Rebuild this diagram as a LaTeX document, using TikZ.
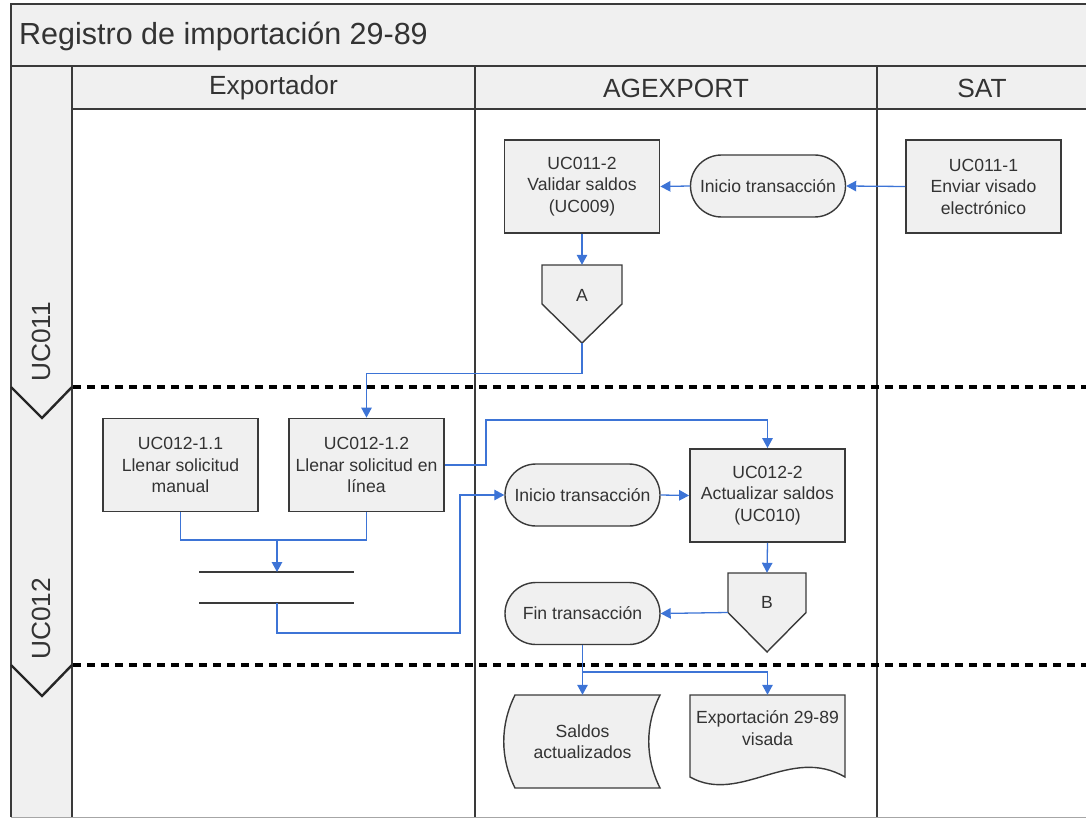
\documentclass[tikz,border=0pt]{standalone}
\usepackage{fontspec}
\setmainfont{Liberation Sans}
\usetikzlibrary{arrows.meta}
\definecolor{fillgray}{HTML}{F0F0F0}
\definecolor{linegray}{HTML}{3A3A3A}
\definecolor{textgray}{HTML}{333333}
\definecolor{flowblue}{HTML}{3D74D6}
\newcommand\myNodeFont{\fontsize{17.6}{21.5}\selectfont}
\newcommand\myHeadFont{\fontsize{26.3}{30}\selectfont}
\begin{document}
\begin{tikzpicture}[x=1pt,y=-1pt,
  frame/.style={draw=linegray,line width=2.6pt},
  proc/.style={draw=linegray,line width=1.8pt,fill=fillgray,minimum width=155pt,minimum height=93pt,inner sep=2pt,align=center,font=\myNodeFont,text=textgray},
  pill/.style={draw=linegray,line width=1.4pt,fill=fillgray,rounded corners=31pt,minimum width=155pt,minimum height=62pt,inner sep=2pt,font=\myNodeFont,text=textgray},
  shapeline/.style={draw=linegray,line width=1.4pt,fill=fillgray},
  txt/.style={align=center,font=\myNodeFont,inner sep=0pt,text=textgray},
  flowline/.style={draw=flowblue,line width=1.3pt},
  flow/.style={flowline,-{Triangle[length=10pt,width=10.5pt]}},
  lanesep/.style={draw=black,line width=3.2pt,dash pattern=on 8pt off 6pt},
  barline/.style={draw=linegray,line width=2.2pt},
  chev/.style={draw=black!85,line width=2.4pt},
  head/.style={font=\myHeadFont,inner sep=0pt,text=textgray},
]
\useasboundingbox (0,0) rectangle (1086,818);
% backgrounds
\fill[fillgray] (11,4) rectangle (1086,109);
\fill[fillgray] (11,66) rectangle (72,817);
% titles
\node[anchor=west,font=\fontsize{30.5}{34}\selectfont,inner sep=0pt,text=textgray] (title) at (19,36) {Registro de importación 29-89};
\node[head] (hexp) at (273.5,88) {Exportador};
\node[head] (hage) at (676,88) {AGEXPORT};
\node[head] (hsat) at (982,88) {SAT};
\node[head,rotate=90] (luc11) at (41,342) {UC011};
\node[head,rotate=90] (luc12) at (41,619) {UC012};
% frame lines
\draw[frame] (1086,4) -- (11,4) -- (11,817);
\draw[frame] (11,66) -- (1086,66);
\draw[frame] (72,109) -- (1086,109);
\draw[frame] (72,66) -- (72,817);
\draw[frame] (475,66) -- (475,817);
\draw[frame] (877,66) -- (877,817);
\draw[draw=black!35,line width=1pt] (11,817) -- (1086,817);
% phase separators
\draw[lanesep] (73,387) -- (1086,387);
\draw[lanesep] (73,665) -- (1086,665);
\draw[chev] (11,387) -- (42,418) -- (72,387);
\draw[chev] (11,665) -- (42,696) -- (72,665);
% process nodes
\node[proc] (uc111) at (983.5,186.5) {UC011-1\\Enviar visado\\electrónico};
\node[pill] (ini1) at (768,186) {Inicio transacción};
\node[proc] (uc112) at (582,186.5) {UC011-2\\Validar saldos\\(UC009)};
\node[proc] (uc121) at (180.5,465) {UC012-1.1\\Llenar solicitud\\manual};
\node[proc] (uc122) at (366.5,465) {UC012-1.2\\Llenar solicitud en\\línea};
\node[pill] (ini2) at (582.5,495) {Inicio transacción};
\node[proc] (uc2) at (767.5,495.5) {UC012-2\\Actualizar saldos\\(UC010)};
\node[pill] (fin) at (582.5,613.5) {Fin transacción};
% off-page connectors
\draw[shapeline] (542,265) -- (622,265) -- (622,304) -- (582,343) -- (542,304) -- cycle;
\node[minimum width=80pt,minimum height=78pt,inner sep=0pt,label={[txt,yshift=9pt]center:A}] (A) at (582,304) {};
\draw[shapeline] (728,573) -- (806,573) -- (806,612.5) -- (767,652) -- (728,612.5) -- cycle;
\node[minimum width=78pt,minimum height=79pt,inner sep=0pt,label={[txt,yshift=10.5pt]center:B}] (B) at (767,612.5) {};
% synchronisation bars
\draw[barline] (199,572) -- (354,572);
\draw[barline] (199,603) -- (354,603);
\coordinate (bar1) at (277,572);
\coordinate (bar2) at (277,603);
% stored data and document
\draw[shapeline] (515,695) -- (660,695) .. controls (645,725) and (645,758) .. (660,788) -- (515,788) .. controls (500,758) and (500,725) .. (515,695) -- cycle;
\node[txt,minimum width=155pt,minimum height=93pt] (sal) at (582.5,741.5) {Saldos\\actualizados};
\draw[shapeline] (690,695) -- (845,695) -- (845,777) .. controls (790,745) and (740,805) .. (690,777) -- cycle;
\node[minimum width=155pt,minimum height=82pt,inner sep=0pt,label={[txt,yshift=8pt]center:{Exportación 29-89\\visada}}] (doc) at (767.5,736) {};
% connectors
\draw[flow] (uc111.west) -- (ini1.east);
\draw[flow] (ini1.west) -- (uc112.east);
\draw[flow] (uc112.south) -- (A.north);
\draw[flow] (A.south) -- ++(0,30) -| (uc122.north);
\coordinate (k1) at (486,420);
\draw[flow] (uc122.east) -| (k1) -| (uc2.north);
\coordinate (m) at (277,540);
\draw[flowline] (uc121.south) |- (m);
\draw[flowline] (uc122.south) |- (m);
\draw[flow] (m) -- (bar1);
\coordinate (k2) at (460,633);
\draw[flow] (bar2) |- (k2) |- (ini2.west);
\draw[flow] (ini2.east) -- (uc2.west);
\draw[flow] (uc2.south) -- (B.north);
\draw[flow] (B.west) -- (fin.east);
\coordinate (k3) at (582.5,672);
\draw[flowline] (fin.south) -- (k3);
\draw[flow] (k3) -- (sal.north);
\draw[flow] (k3) -| (doc.north);
\end{tikzpicture}
\end{document}
